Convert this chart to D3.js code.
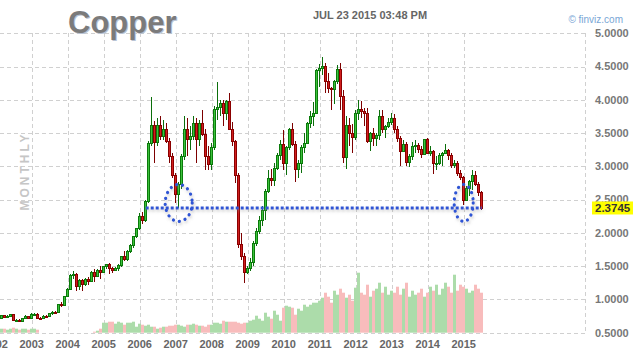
<!DOCTYPE html>
<html>
<head>
<meta charset="utf-8">
<script src="https://cdn.jsdelivr.net/npm/d3@7"></script>
<style>
  body { margin: 0; background: #fff; }
  svg { display: block; font-family: Arial, "Liberation Sans", sans-serif; }
</style>
</head>
<body>
<svg id="chart" width="638" height="354"></svg>
<script>
// ---- data (monthly, Jan 2002 .. Jul 2015) ----
const firstYear = 2002;
const yearTicks = [2002, 2003, 2004, 2005, 2006, 2007, 2008, 2009, 2010, 2011, 2012, 2013, 2014, 2015];
const priceTicks = [0.5, 1.0, 1.5, 2.0, 2.5, 3.0, 3.5, 4.0, 4.5, 5.0];
const lastPrice = 2.3745;

// [open, high, low, close]
const priceRows = [
  // 2002
  [0.66,0.71,0.65,0.70],[0.70,0.73,0.69,0.72],[0.72,0.77,0.71,0.76],[0.76,0.77,0.72,0.73],
  [0.73,0.76,0.72,0.74],[0.74,0.78,0.73,0.77],[0.77,0.78,0.67,0.68],[0.68,0.70,0.66,0.69],
  [0.69,0.70,0.66,0.67],[0.67,0.72,0.66,0.71],[0.71,0.76,0.70,0.74],[0.74,0.75,0.70,0.71],
  // 2003
  [0.71,0.79,0.70,0.77],[0.77,0.80,0.75,0.78],[0.78,0.79,0.70,0.72],[0.72,0.74,0.70,0.71],
  [0.71,0.77,0.71,0.75],[0.75,0.77,0.73,0.74],[0.74,0.80,0.74,0.79],[0.79,0.82,0.77,0.81],
  [0.81,0.83,0.78,0.80],[0.80,0.93,0.80,0.92],[0.92,0.96,0.89,0.91],[0.91,1.05,0.91,1.05],
  // 2004
  [1.05,1.17,1.05,1.15],[1.15,1.38,1.15,1.36],[1.36,1.42,1.30,1.37],[1.37,1.40,1.12,1.20],
  [1.20,1.30,1.14,1.28],[1.28,1.31,1.12,1.22],[1.22,1.32,1.20,1.30],[1.30,1.33,1.22,1.27],
  [1.27,1.42,1.26,1.40],[1.40,1.45,1.26,1.35],[1.35,1.46,1.33,1.44],[1.44,1.50,1.30,1.41],
  // 2005
  [1.41,1.50,1.40,1.49],[1.49,1.53,1.46,1.52],[1.52,1.55,1.38,1.47],[1.47,1.49,1.40,1.44],
  [1.44,1.49,1.42,1.46],[1.46,1.53,1.43,1.51],[1.51,1.66,1.49,1.64],[1.64,1.73,1.58,1.60],
  [1.60,1.75,1.58,1.72],[1.72,1.84,1.70,1.81],[1.81,1.96,1.78,1.94],[1.94,2.08,1.92,2.06],
  // 2006
  [2.06,2.30,2.04,2.24],[2.24,2.32,2.14,2.19],[2.19,2.50,2.17,2.47],[2.47,3.38,2.45,3.35],
  [3.35,4.05,3.30,3.62],[3.62,3.68,3.05,3.36],[3.36,3.72,3.30,3.62],[3.62,3.75,3.40,3.45],
  [3.45,3.70,3.40,3.55],[3.55,3.65,3.35,3.38],[3.38,3.42,3.05,3.15],[3.15,3.20,2.82,2.87],
  // 2007
  [2.87,2.90,2.45,2.58],[2.58,2.76,2.37,2.72],[2.72,3.18,2.66,3.15],[3.15,3.75,3.10,3.55],
  [3.55,3.72,3.16,3.40],[3.40,3.60,3.25,3.45],[3.45,3.75,3.40,3.65],[3.65,3.72,3.05,3.40],
  [3.40,3.70,3.30,3.65],[3.65,3.85,3.45,3.48],[3.48,3.56,2.95,3.15],[3.15,3.30,2.95,3.03],
  // 2008
  [3.03,3.35,2.95,3.28],[3.28,3.90,3.25,3.86],[3.86,4.27,3.70,3.88],[3.88,4.00,3.75,3.95],
  [3.95,4.00,3.60,3.80],[3.80,4.00,3.70,3.98],[3.98,4.10,3.55,3.56],[3.56,3.67,3.30,3.38],
  [3.38,3.40,2.75,2.86],[2.86,2.90,1.78,1.82],[1.82,2.00,1.60,1.64],[1.64,1.70,1.25,1.40],
  // 2009
  [1.40,1.50,1.38,1.46],[1.46,1.62,1.42,1.56],[1.56,1.88,1.50,1.84],[1.84,2.07,1.80,2.02],
  [2.02,2.25,1.98,2.19],[2.19,2.40,2.10,2.34],[2.34,2.66,2.20,2.62],[2.62,2.95,2.60,2.82],
  [2.82,2.96,2.70,2.79],[2.79,3.05,2.70,2.97],[2.97,3.20,2.95,3.16],[3.16,3.40,3.10,3.33],
  // 2010
  [3.33,3.55,2.95,3.05],[3.05,3.30,2.87,3.28],[3.28,3.58,3.25,3.55],[3.55,3.65,3.30,3.33],
  [3.33,3.38,2.76,2.95],[2.95,3.10,2.82,3.04],[3.04,3.32,2.90,3.28],[3.28,3.50,3.20,3.35],
  [3.35,3.67,3.33,3.64],[3.64,3.83,3.58,3.75],[3.75,3.97,3.60,3.80],[3.80,4.46,3.78,4.44],
  // 2011
  [4.44,4.54,4.20,4.47],[4.47,4.65,4.37,4.50],[4.50,4.55,4.10,4.27],[4.27,4.40,4.10,4.17],
  [4.17,4.20,3.85,4.15],[4.15,4.30,3.93,4.28],[4.28,4.52,4.24,4.46],[4.46,4.55,3.85,4.05],
  [4.05,4.15,3.05,3.13],[3.13,3.75,2.96,3.62],[3.62,3.72,3.30,3.50],[3.50,3.63,3.20,3.43],
  // 2012
  [3.43,3.85,3.40,3.80],[3.80,4.00,3.70,3.86],[3.86,3.98,3.72,3.83],[3.83,3.87,3.60,3.80],
  [3.80,3.88,3.35,3.38],[3.38,3.52,3.23,3.49],[3.49,3.58,3.30,3.42],[3.42,3.50,3.30,3.47],
  [3.47,3.85,3.40,3.75],[3.75,3.84,3.50,3.55],[3.55,3.62,3.42,3.60],[3.60,3.73,3.58,3.66],
  // 2013
  [3.66,3.80,3.62,3.72],[3.72,3.78,3.50,3.55],[3.55,3.60,3.37,3.42],[3.42,3.45,3.00,3.23],
  [3.23,3.40,3.22,3.33],[3.33,3.36,3.00,3.06],[3.06,3.18,2.99,3.15],[3.15,3.36,3.10,3.30],
  [3.30,3.40,3.20,3.31],[3.31,3.35,3.20,3.26],[3.26,3.30,3.12,3.18],[3.18,3.41,3.17,3.40],
  // 2014
  [3.40,3.42,3.18,3.20],[3.20,3.30,3.16,3.22],[3.22,3.24,2.88,3.04],[3.04,3.15,2.95,3.05],
  [3.05,3.20,3.02,3.16],[3.16,3.22,3.01,3.20],[3.20,3.33,3.18,3.24],[3.24,3.26,3.10,3.17],
  [3.17,3.20,2.98,3.02],[3.02,3.10,2.98,3.05],[3.05,3.08,2.85,2.89],[2.89,2.95,2.79,2.83],
  // 2015
  [2.83,2.86,2.42,2.49],[2.49,2.70,2.48,2.67],[2.67,2.80,2.55,2.77],[2.77,2.95,2.65,2.87],
  [2.87,2.93,2.70,2.73],[2.73,2.77,2.55,2.61],[2.61,2.63,2.34,2.37]
];

// monthly volume (relative units)
const volumes = [
  3,3,4,4,3,4,5,4,3,4,4,3,
  4,4,3,0,0,0,0,0,0,0,0,0,
  0,0,0,0,0,0,0,0,0,1,2,4,
  10,10,11,11,9,11,10,8,10,10,11,6,
  9,8,7,8,6,6,4,5,6,6,7,7,
  8,8,7,6,8,8,9,8,7,7,6,8,
  8,10,10,9,12,11,11,11,11,10,9,10,
  10,12,13,17,14,12,20,16,14,22,18,12,
  25,27,26,25,18,24,22,28,26,28,30,30,
  32,35,40,36,30,42,38,44,40,35,38,32,
  45,60,40,38,48,36,42,44,50,40,46,38,
  42,40,46,38,44,50,36,42,38,40,44,36,
  40,46,42,48,38,44,50,46,40,58,42,48,
  46,44,40,42,48,44,40
];

// annotation: months that are circled
const circledMonths = [61, 156];

// ---- layout ----
const plotRight = 585.5, plotTop = 33.3, plotBottom = 332.7;

const svg = d3.select("#chart");

const x = d3.scaleLinear().domain([0, 168]).range([-4.3, -4.3 + 504]);
const y = d3.scaleLinear().domain([0.5, 5]).range([plotBottom, plotTop]);
const yVol = d3.scaleLinear().domain([0, 100]).range([plotBottom, plotBottom - 100]);

const defs = svg.append("defs");
const shadow = defs.append("filter").attr("id", "shadow")
  .attr("x", "-20%").attr("y", "-50%").attr("width", "140%").attr("height", "200%");
shadow.append("feDropShadow").attr("dx", 1).attr("dy", 2)
  .attr("stdDeviation", 1.6).attr("flood-color", "#888").attr("flood-opacity", 0.45);

// grid
const grid = svg.append("g").attr("stroke", "#d0d0d0").attr("stroke-dasharray", "4,3")
  .attr("shape-rendering", "crispEdges");
grid.selectAll(".hg").data(priceTicks).join("line")
  .attr("x1", 0).attr("x2", plotRight)
  .attr("y1", d => Math.round(y(d)) + 0.5).attr("y2", d => Math.round(y(d)) + 0.5);
grid.selectAll(".vg").data(yearTicks).join("line")
  .attr("x1", d => Math.round(x((d - firstYear) * 12)) + 0.5)
  .attr("x2", d => Math.round(x((d - firstYear) * 12)) + 0.5)
  .attr("y1", plotTop).attr("y2", plotBottom);
grid.append("line").attr("x1", plotRight).attr("x2", plotRight)
  .attr("y1", plotTop).attr("y2", plotBottom);

// volume bars
const isUp = d => d[3] >= d[0];
svg.append("g").selectAll("rect").data(volumes).join("rect")
  .attr("x", (d, i) => Math.floor(x(i)) - 1)
  .attr("width", 3)
  .attr("y", d => yVol(d))
  .attr("height", d => plotBottom - yVol(d))
  .attr("fill", (d, i) => isUp(priceRows[i]) ? "#acdcaa" : "#f8bcbc");

// candles
const candles = svg.append("g").attr("shape-rendering", "crispEdges");
const cg = candles.selectAll("g").data(priceRows).join("g");
cg.append("line")
  .attr("x1", (d, i) => Math.floor(x(i)) + 0.5)
  .attr("x2", (d, i) => Math.floor(x(i)) + 0.5)
  .attr("y1", d => y(d[1])).attr("y2", d => y(d[2]))
  .attr("stroke", d => isUp(d) ? "#0b6e0b" : "#7d0000");
cg.append("rect")
  .attr("x", (d, i) => Math.floor(x(i)) - 0.5)
  .attr("width", 2)
  .attr("y", d => y(Math.max(d[0], d[3])))
  .attr("height", d => Math.max(1, Math.abs(y(d[0]) - y(d[3]))))
  .attr("fill", d => isUp(d) ? "#3cc23c" : "#d01e1e")
  .attr("stroke", d => isUp(d) ? "#0b7a0b" : "#8b0000");

// annotation
const ann = svg.append("g").attr("filter", "url(#shadow)").attr("fill", "none");
ann.append("line")
  .attr("x1", x(50)).attr("x2", x(162))
  .attr("y1", y(lastPrice)).attr("y2", y(lastPrice))
  .attr("stroke", "#2f55d4").attr("stroke-width", 3).attr("stroke-dasharray", "3,2");
ann.selectAll("ellipse").data(circledMonths).join("ellipse")
  .attr("cx", d => x(d))
  .attr("cy", y(2.45))
  .attr("rx", (d, i) => i === 0 ? 13.5 : 9.5)
  .attr("ry", 18.5)
  .attr("stroke", "#2f55d4").attr("stroke-width", 3.2)
  .attr("stroke-linecap", "round").attr("stroke-dasharray", "0.1,6");

// y axis labels
svg.append("g").selectAll("text").data(priceTicks).join("text")
  .attr("x", 595).attr("y", d => y(d)).attr("dy", "0.35em")
  .attr("font-size", 11).attr("font-weight", "bold").attr("fill", "#777")
  .text(d => d3.format(".4f")(d));

// last price label
const lp = svg.append("g").attr("transform", `translate(592,${y(lastPrice)})`);
lp.append("rect").attr("x", 0).attr("y", -6.5).attr("width", 41).attr("height", 13).attr("fill", "#ffff00");
lp.append("text").attr("x", 3).attr("dy", "0.36em").attr("font-size", 11.5)
  .attr("font-weight", "bold").attr("fill", "#333").text(d3.format(".4f")(lastPrice));

// x axis labels
svg.append("g").selectAll("text").data(yearTicks).join("text")
  .attr("x", d => x((d - firstYear) * 12)).attr("y", 348)
  .attr("text-anchor", "middle").attr("font-size", 11).attr("font-weight", "bold")
  .attr("fill", "#666").text(d => d);

// MONTHLY
svg.append("text").attr("transform", "translate(28.5,171) rotate(-90)")
  .attr("text-anchor", "middle").attr("font-size", 12).attr("font-weight", "bold")
  .attr("letter-spacing", 3).attr("fill", "#c6c6c6").text("MONTHLY");

// title & header
svg.append("text").attr("x", 69).attr("y", 34.3).attr("font-size", 31).attr("font-weight", "bold")
  .attr("fill", "#b9c3d3").text("Copper");
svg.append("text").attr("x", 68).attr("y", 33.3).attr("font-size", 31).attr("font-weight", "bold")
  .attr("fill", "#7b7b7b").text("Copper");
svg.append("text").attr("x", 370).attr("y", 18.5).attr("text-anchor", "middle")
  .attr("font-size", 11).attr("font-weight", "bold").attr("fill", "#666")
  .text("JUL 23 2015 03:48 PM");
svg.append("text").attr("x", 623).attr("y", 23).attr("text-anchor", "end")
  .attr("font-size", 10).attr("fill", "#79a6d6").text("\u00a9 finviz.com");
</script>
</body>
</html>
